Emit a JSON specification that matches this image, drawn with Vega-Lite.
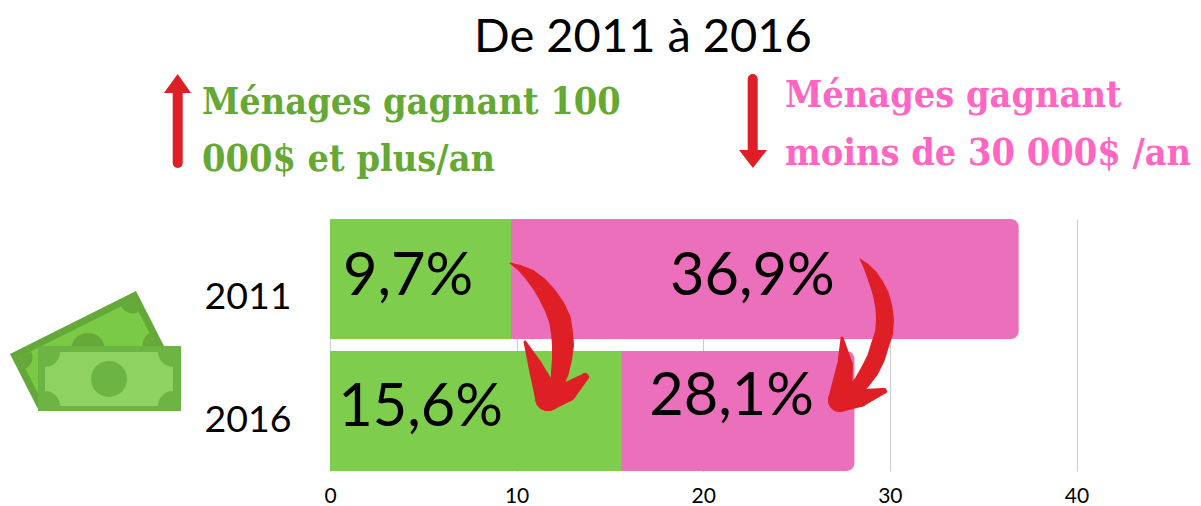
{
"$schema":"https://vega.github.io/schema/vega-lite/v6.json",
"width":746.5,"height":252,
"autosize":{"type":"none"},
"padding":{"left":330,"top":219,"right":124.5,"bottom":35},
"background":"white",
"config":{"view":{"stroke":null},"font":"Lato"},
"resolve":{"scale":{"x":"independent","y":"independent"}},
"layer":[
{"data":{"values":[
{"annee":"2011","groupe":"moins de 30 000$","pct":36.9},
{"annee":"2016","groupe":"moins de 30 000$","pct":28.1},
{"annee":"2011","groupe":"100 000$ et plus","pct":9.7},
{"annee":"2016","groupe":"100 000$ et plus","pct":15.6}]},
"encoding":{
"x":{"field":"pct","type":"quantitative","stack":null,"scale":{"domain":[0,40],"nice":false},
"axis":{"title":null,"values":[0,10,20,30,40],"grid":true,"gridColor":"#cccccc","gridWidth":1,"domain":false,"ticks":false,"labelFont":"Lato","labelFontSize":21,"labelColor":"#000000","labelPadding":14,"labelFlush":false}},
"y":{"field":"annee","type":"nominal","scale":{"paddingInner":0.0909,"paddingOuter":0},
"axis":{"title":null,"domain":false,"ticks":false,"grid":false,"labelFont":"Lato","labelFontSize":37.5,"labelColor":"#000000","labelAlign":"left","labelPadding":126,"labelOffset":{"expr":"datum.value=='2011'?19:10"}}}},
"layer":[
{"transform":[{"filter":"datum.groupe=='moins de 30 000$'"}],"mark":{"type":"bar","cornerRadiusEnd":8,"color":"#ec6fbc"}},
{"transform":[{"filter":"datum.groupe=='100 000$ et plus'"}],"mark":{"type":"bar","color":"#7fcd4c"}}
]},
{"encoding":{
"x":{"field":"x","type":"quantitative","axis":null,"scale":{"domain":[0,40],"nice":false}},
"y":{"field":"y","type":"quantitative","axis":null,"scale":{"domain":[0,13.5],"nice":false,"zero":false}}},
"layer":[
{"data":{"values":[{"t":"De 2011 à 2016","x":16.77,"y":22.45}]},"mark":{"type":"text","font":"Lato","fontSize":47,"align":"center","baseline":"alphabetic","color":"#000000"},"encoding":{"text":{"field":"t"}}},
{"data":{"values":[{"t":"Ménages gagnant 100","x":-6.86,"y":19.15},{"t":"000$ et plus/an","x":-6.86,"y":16.05}]},"mark":{"type":"text","font":"DejaVu Serif Condensed","fontWeight":"bold","fontSize":37.5,"align":"left","baseline":"alphabetic","color":"#66a834"},"encoding":{"text":{"field":"t"}}},
{"data":{"values":[{"t":"Ménages gagnant","x":24.38,"y":19.5},{"t":"moins de 30 000$ /an","x":24.38,"y":16.4}]},"mark":{"type":"text","font":"DejaVu Serif Condensed","fontWeight":"bold","fontSize":37.5,"align":"left","baseline":"alphabetic","color":"#ff66c4"},"encoding":{"text":{"field":"t"}}},
{"data":{"values":[{"t":"9,7%","x":0.7,"y":9.43},{"t":"36,9%","x":18.22,"y":9.43},{"t":"15,6%","x":0.44,"y":2.41},{"t":"28,1%","x":17.1,"y":3.0}]},"mark":{"type":"text","font":"Lato","fontSize":59.5,"align":"left","baseline":"alphabetic","color":"#000000"},"encoding":{"text":{"field":"t"}}},
{"data":{"values":[
{"id":"g","i":1,"x":9.645,"y":11.14,"w":1},{"id":"g","i":2,"x":10.181,"y":10.875,"w":6},{"id":"g","i":3,"x":10.717,"y":10.5,"w":12},{"id":"g","i":4,"x":11.253,"y":9.964,"w":16},{"id":"g","i":5,"x":11.681,"y":9.375,"w":19},{"id":"g","i":6,"x":12.056,"y":8.732,"w":21},{"id":"g","i":7,"x":12.324,"y":8.089,"w":22},{"id":"g","i":8,"x":12.431,"y":7.393,"w":22},{"id":"g","i":9,"x":12.485,"y":6.75,"w":22},{"id":"g","i":10,"x":12.431,"y":6.0,"w":20},{"id":"g","i":11,"x":12.324,"y":5.304,"w":18},{"id":"g","i":12,"x":12.163,"y":4.661,"w":14},{"id":"g","i":13,"x":11.949,"y":4.071,"w":10},
{"id":"g1","i":1,"x":10.449,"y":6.91,"w":3},{"id":"g1","i":2,"x":10.985,"y":5.679,"w":14},{"id":"g1","i":3,"x":11.681,"y":3.911,"w":26},
{"id":"g2","i":1,"x":13.664,"y":5.036,"w":8},{"id":"g2","i":2,"x":12.699,"y":4.232,"w":20},{"id":"g2","i":3,"x":11.681,"y":3.911,"w":26},
{"id":"d","i":1,"x":28.4,"y":11.357,"w":1},{"id":"d","i":2,"x":28.721,"y":10.982,"w":6},{"id":"d","i":3,"x":29.042,"y":10.5,"w":11},{"id":"d","i":4,"x":29.31,"y":9.964,"w":14},{"id":"d","i":5,"x":29.525,"y":9.429,"w":16},{"id":"d","i":6,"x":29.685,"y":8.732,"w":17},{"id":"d","i":7,"x":29.739,"y":8.089,"w":18},{"id":"d","i":8,"x":29.685,"y":7.393,"w":18},{"id":"d","i":9,"x":29.471,"y":6.75,"w":18},{"id":"d","i":10,"x":29.257,"y":6.054,"w":18},{"id":"d","i":11,"x":28.935,"y":5.411,"w":18},{"id":"d","i":12,"x":28.507,"y":4.768,"w":16},{"id":"d","i":13,"x":28.024,"y":4.232,"w":14},
{"id":"d1","i":1,"x":27.435,"y":7.125,"w":3},{"id":"d1","i":2,"x":27.596,"y":5.679,"w":16},{"id":"d1","i":3,"x":27.328,"y":3.804,"w":24},
{"id":"d2","i":1,"x":29.685,"y":4.286,"w":6},{"id":"d2","i":2,"x":28.4,"y":3.911,"w":18},{"id":"d2","i":3,"x":27.328,"y":3.804,"w":24},
{"id":"h","i":1,"x":-8.16,"y":20.4,"w":10},{"id":"h","i":2,"x":-8.16,"y":16.5,"w":10},
{"id":"b","i":1,"x":22.65,"y":21.0,"w":10},{"id":"b","i":2,"x":22.65,"y":17.1,"w":10}]},
"mark":{"type":"trail","color":"#de1f26"},
"encoding":{"detail":{"field":"id"},"order":{"field":"i"},"size":{"field":"w","type":"quantitative","scale":null,"legend":null}}},
{"data":{"values":[{"id":"h","y":21.27,"x":-8.162,"x2":-8.162},{"id":"h","y":20.25,"x":-8.895,"x2":-7.448},{"id":"b","y":17.196,"x":21.915,"x2":23.415},{"id":"b","y":16.232,"x":22.665,"x2":22.665}]},
"mark":{"type":"area","orient":"horizontal","color":"#de1f26"},
"encoding":{"detail":{"field":"id"},"x2":{"field":"x2"}}},
{"data":{"values":[{"x":-17.147,"y":6.268,"y2":6.268},{"x":-15.593,"y":7.045,"y2":3.214},{"x":-10.395,"y":9.643,"y2":5.812},{"x":-8.841,"y":6.589,"y2":6.589}]},
"mark":{"type":"area","color":"#62a93a"},"encoding":{"y2":{"field":"y2"}}},
{"data":{"values":[{"x":-16.643,"y":6.102,"y2":6.102},{"x":-15.427,"y":6.71,"y2":3.718},{"x":-10.561,"y":9.139,"y2":6.15},{"x":-9.345,"y":6.755,"y2":6.755}]},
"mark":{"type":"area","color":"#7bca45"},"encoding":{"y2":{"field":"y2"}}},
{"data":{"values":[{"x":-12.967,"y":6.482}]},"mark":{"type":"point","shape":"circle","filled":true,"opacity":1,"size":1156,"color":"#67a838"}},
{"data":{"values":[{"x":-16.643,"y":6.102,"a":1.107,"a2":2.678},{"x":-10.561,"y":9.139,"a":2.678,"a2":4.249},{"x":-9.345,"y":6.755,"a":4.249,"a2":5.82}]},
"mark":{"type":"arc","outerRadius":13,"innerRadius":0,"color":"#67a838"},
"encoding":{"theta":{"field":"a","type":"quantitative","scale":null,"stack":null},"theta2":{"field":"a2"}}},
{"data":{"values":[{"x":-15.646,"x2":-7.984,"y":6.696,"y2":3.214}]},"mark":{"type":"rect","color":"#6cb545"},"encoding":{"x2":{"field":"x2"},"y2":{"field":"y2"}}},
{"data":{"values":[{"x":-15.271,"x2":-8.413,"y":6.375,"y2":3.482}]},"mark":{"type":"rect","color":"#8ed262"},"encoding":{"x2":{"field":"x2"},"y2":{"field":"y2"}}},
{"data":{"values":[{"x":-11.842,"y":4.929}]},"mark":{"type":"point","shape":"circle","filled":true,"opacity":1,"size":1296,"color":"#6cb545"}},
{"data":{"values":[{"x":-15.271,"y":6.375,"a":1.5708,"a2":3.1416},{"x":-8.413,"y":6.375,"a":3.1416,"a2":4.7124},{"x":-8.413,"y":3.482,"a":4.7124,"a2":6.2832},{"x":-15.271,"y":3.482,"a":0,"a2":1.5708}]},
"mark":{"type":"arc","outerRadius":15,"innerRadius":0,"color":"#6cb545"},
"encoding":{"theta":{"field":"a","type":"quantitative","scale":null,"stack":null},"theta2":{"field":"a2"}}}
]}
]}
